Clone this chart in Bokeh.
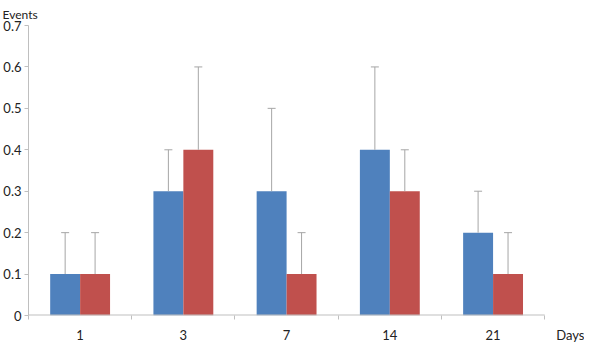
import numpy as np
from bokeh.plotting import figure
from bokeh.models import ColumnDataSource, FixedTicker, Whisker, TeeHead, Range1d
from bokeh.embed import file_html
from bokeh.resources import INLINE

days = ["1", "3", "7", "14", "21"]
series_a = [0.1, 0.3, 0.3, 0.4, 0.2]
series_a_err = [0.1, 0.1, 0.2, 0.2, 0.1]
series_b = [0.1, 0.4, 0.1, 0.3, 0.1]
series_b_err = [0.1, 0.2, 0.1, 0.1, 0.1]
y_ticks = [0, 0.1, 0.2, 0.3, 0.4, 0.5, 0.6, 0.7]
x_title = "Days"
y_title = "Events"

BLUE = "#4F81BD"
RED = "#C0504D"
FONT = "Lato"
TXT = "#222222"
AXC = "#bfbfbf"

idx = np.arange(len(days))
bw = 0.29
x_last = len(days) - 0.5
x_end = x_last + 0.25   # room for the "Days" caption

p = figure(width=584, height=345, output_backend="svg", toolbar_location=None,
           x_range=Range1d(-0.5, x_end), y_range=Range1d(0, 0.7),
           min_border_left=0, min_border_right=14, min_border_top=10, min_border_bottom=0)
p.outline_line_color = None
p.xgrid.visible = False
p.ygrid.visible = False

src_a = ColumnDataSource(dict(x=idx - bw / 2, top=series_a,
                              upper=[v + e for v, e in zip(series_a, series_a_err)]))
src_b = ColumnDataSource(dict(x=idx + bw / 2, top=series_b,
                              upper=[v + e for v, e in zip(series_b, series_b_err)]))

for src, col in ((src_a, BLUE), (src_b, RED)):
    p.vbar(x="x", top="top", bottom=0, width=bw, source=src, fill_color=col, line_color=None)
    w = Whisker(source=src, base="x", lower="top", upper="upper", dimension="height",
                line_color="#a6a6a6", line_width=1,
                upper_head=TeeHead(size=8, line_color="#a6a6a6", line_width=1),
                lower_head=None, level="overlay")
    p.add_layout(w)

# category axis baseline (only over the categories)
p.segment(x0=[-0.5], x1=[x_last], y0=[0], y1=[0], line_color=AXC, line_width=2)

# y axis
p.yaxis.ticker = FixedTicker(ticks=y_ticks)
p.yaxis.major_label_overrides = {t: ("0" if t == 0 else f"{t:.1f}") for t in y_ticks}
p.yaxis.axis_line_color = AXC
p.yaxis.major_tick_line_color = AXC
p.yaxis.major_tick_in = 0
p.yaxis.major_tick_out = 4
p.yaxis.minor_tick_line_color = None
p.yaxis.major_label_standoff = 3
p.yaxis.major_label_text_font = FONT
p.yaxis.major_label_text_font_size = "13px"
p.yaxis.major_label_text_color = TXT

# x axis
p.xaxis.ticker = FixedTicker(ticks=list(idx) + [x_end],
                             minor_ticks=list(np.arange(len(days) + 1) - 0.5))
overrides = {int(i): d for i, d in zip(idx, days)}
overrides[x_end] = x_title
p.xaxis.major_label_overrides = overrides
p.xaxis.axis_line_color = None
p.xaxis.major_tick_line_color = None
p.xaxis.major_tick_in = 0
p.xaxis.major_tick_out = 0
p.xaxis.minor_tick_line_color = AXC
p.xaxis.minor_tick_in = 0
p.xaxis.minor_tick_out = 4
p.xaxis.major_label_standoff = 7
p.xaxis.major_label_text_font = FONT
p.xaxis.major_label_text_font_size = "13px"
p.xaxis.major_label_text_color = TXT

p.title.text = y_title
p.title.align = "left"
p.title.offset = -26
p.title.standoff = 8
p.title.text_font = FONT
p.title.text_font_size = "12px"
p.title.text_font_style = "normal"
p.title.text_color = TXT

open("out.html", "w").write(file_html(p, INLINE))
